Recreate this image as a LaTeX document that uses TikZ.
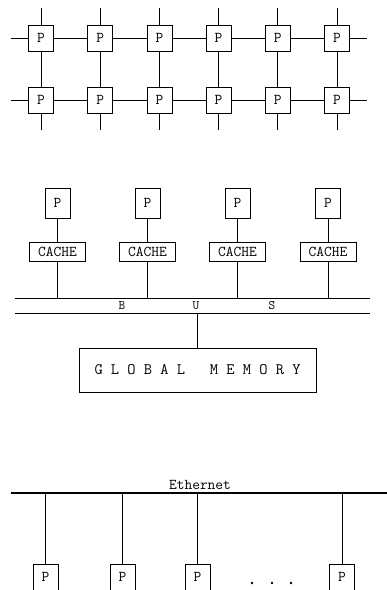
\documentclass[tikz,border=0pt]{standalone}
\usetikzlibrary{calc,positioning}

\begin{document}
\begin{tikzpicture}[x=1pt, y=-1pt, line width=0.8pt,
    proc/.style={draw, fill=white, minimum width=25pt, minimum height=26pt, inner sep=0pt,
                 font=\ttfamily\fontsize{15}{15}\selectfont},
    cachebox/.style={draw, minimum width=56pt, minimum height=19pt, inner sep=0pt,
                 font=\ttfamily\fontsize{15}{15}\selectfont},
    membox/.style={draw, minimum width=237pt, minimum height=44pt, inner sep=0pt,
                 font=\ttfamily\fontsize{16}{16}\selectfont},
    tag/.style={inner sep=1pt, font=\ttfamily\fontsize{13}{13}\selectfont},
    ether/.style={line width=1.7pt}]
  \useasboundingbox (0,0) rectangle (387,590);
  \clip (0,0) rectangle (387,590);
  % mesh of processors
  \foreach \c [evaluate=\c as \x using 41+59.2*\c] in {0,...,5} {
    \coordinate (top\c) at (\x,8);
    \coordinate (bot\c) at (\x,130);
    \foreach \r/\y in {0/38,1/100}
      \node[proc] (m\r\c) at (\x,\y) {P};
    \draw (top\c) -- (m0\c);
    \draw (m0\c) -- (m1\c);
    \draw (m1\c) -- (bot\c);
  }
  \foreach \r/\y in {0/38,1/100} {
    \coordinate (left\r) at (11,\y);
    \coordinate (right\r) at (367,\y);
    \draw (left\r) -- (m\r0);
    \foreach \c [count=\d] in {0,...,4} \draw (m\r\c) -- (m\r\d);
    \draw (m\r5) -- (right\r);
  }
  % bus machine
  \coordinate (busL) at (15,298); \coordinate (busR) at (370,298);
  \coordinate (busLL) at (15,313); \coordinate (busRR) at (370,313);
  \draw (busL) -- (busR);
  \draw (busLL) -- (busRR);
  \foreach \i/\x in {1/57.5, 2/147.5, 3/237.5, 4/328} {
    \node[proc, minimum height=30pt] (p\i) at (\x,203) {P};
    \node[cachebox] (cache\i) at (\x,252) {CACHE};
    \coordinate (tap\i) at (\x,298);
    \draw (p\i) -- (cache\i);
    \draw (cache\i) -- (tap\i);
  }
  \node[tag] (busB) at (122,306) {B};
  \node[tag] (busU) at (196,306) {U};
  \node[tag] (busS) at (272,306) {S};
  \node[membox] (mem) at (197.5,370) {G L O B A L\ \ \ M E M O R Y};
  \coordinate (memtap) at (mem.north |- busLL);
  \draw (memtap) -- (mem);
  % ethernet
  \coordinate (ethL) at (11,493); \coordinate (ethR) at (387,493);
  \draw[ether] (ethL) -- (ethR);
  \node[tag, font=\ttfamily\fontsize{15}{15}\selectfont, above=1pt] (ethname) at (200,492) {Ethernet};
  \foreach \i/\x in {1/45.5, 2/122.5, 3/197.5, 4/342} {
    \node[proc, anchor=north] (host\i) at (\x,564) {P};
    \coordinate (drop\i) at (\x,493);
    \draw (drop\i) -- (host\i);
  }
  \foreach \x in {252,272,291} \fill (\x,583) circle (1.4pt);
\end{tikzpicture}
\end{document}
